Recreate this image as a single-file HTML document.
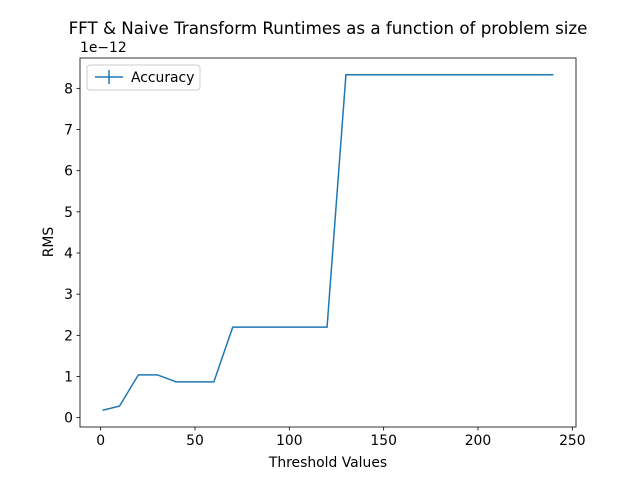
<!DOCTYPE html>
<html><head><meta charset="utf-8"><style>body{margin:0;background:#fff}svg{display:block;font-family:"DejaVu Sans","Liberation Sans",sans-serif}</style></head>
<body>
<svg id="c" width="640" height="480" xmlns="http://www.w3.org/2000/svg">
<rect width="640" height="480" fill="#fff"/>
<text x="328" y="34" font-size="16.7" text-anchor="middle">FFT &amp; Naive Transform Runtimes as a function of problem size</text>
<text x="328" y="467" font-size="13.9" text-anchor="middle">Threshold Values</text>
<text x="53" y="242" font-size="13.9" text-anchor="middle" transform="rotate(-90 53 242)">RMS</text>
<text x="80" y="52" font-size="13.9">1e−12</text>
<g id="ticks"></g>
<polyline id="line" fill="none" stroke="#1f77b4" stroke-width="1.5"/>
<rect x="80" y="58" width="496" height="369" fill="none" stroke="#000" stroke-width="0.8"/>
<g>
<rect x="87" y="65" width="113" height="25" rx="3" fill="#fff" stroke="#ccc"/>
<line x1="95" y1="77" x2="123" y2="77" stroke="#1f77b4" stroke-width="1.5"/>
<line x1="109" y1="70" x2="109" y2="84" stroke="#1f77b4" stroke-width="1.5"/>
<text x="131" y="82" font-size="13.9">Accuracy</text>
</g>
</svg>
<script>
const thresholds=[1,10,20,30,40,50,60,70,80,90,100,110,120,130,140,150,160,170,180,190,200,210,220,230,240];
const rms=[0.18,0.28,1.04,1.04,0.87,0.87,0.87,2.2,2.2,2.2,2.2,2.2,2.2,8.33,8.33,8.33,8.33,8.33,8.33,8.33,8.33,8.33,8.33,8.33,8.33];
const xTicks=[0,50,100,150,200,250];
const yTicks=[0,1,2,3,4,5,6,7,8];
const X0=80,X1=576,Y0=58,Y1=427;
const xmin=-10.95,xmax=251.95,ymin=-0.2275,ymax=8.7375;
const sx=v=>X0+(v-xmin)/(xmax-xmin)*(X1-X0);
const sy=v=>Y1-(v-ymin)/(ymax-ymin)*(Y1-Y0);
const NS="http://www.w3.org/2000/svg";
const g=document.getElementById('ticks');
function mk(t,a){const e=document.createElementNS(NS,t);for(const k in a)e.setAttribute(k,a[k]);g.appendChild(e);return e;}
xTicks.forEach(v=>{const x=sx(v);
const l=mk('line',{x1:x,x2:x,y1:Y1,y2:Y1+3.5,stroke:'#000','stroke-width':0.8});


const t=mk('text',{x:x,y:Y1+18,'font-size':13.9,'text-anchor':'middle'});t.textContent=v;

});
yTicks.forEach(v=>{const y=sy(v);
const l=mk('line',{x1:X0-3.5,x2:X0,y1:y,y2:y,stroke:'#000','stroke-width':0.8});


const t=mk('text',{x:X0-7,y:y+5,'font-size':13.9,'text-anchor':'end'});t.textContent=v;

});
document.getElementById('line').setAttribute('points',thresholds.map((t,i)=>sx(t)+','+sy(rms[i])).join(' '));
</script>
</body></html>
